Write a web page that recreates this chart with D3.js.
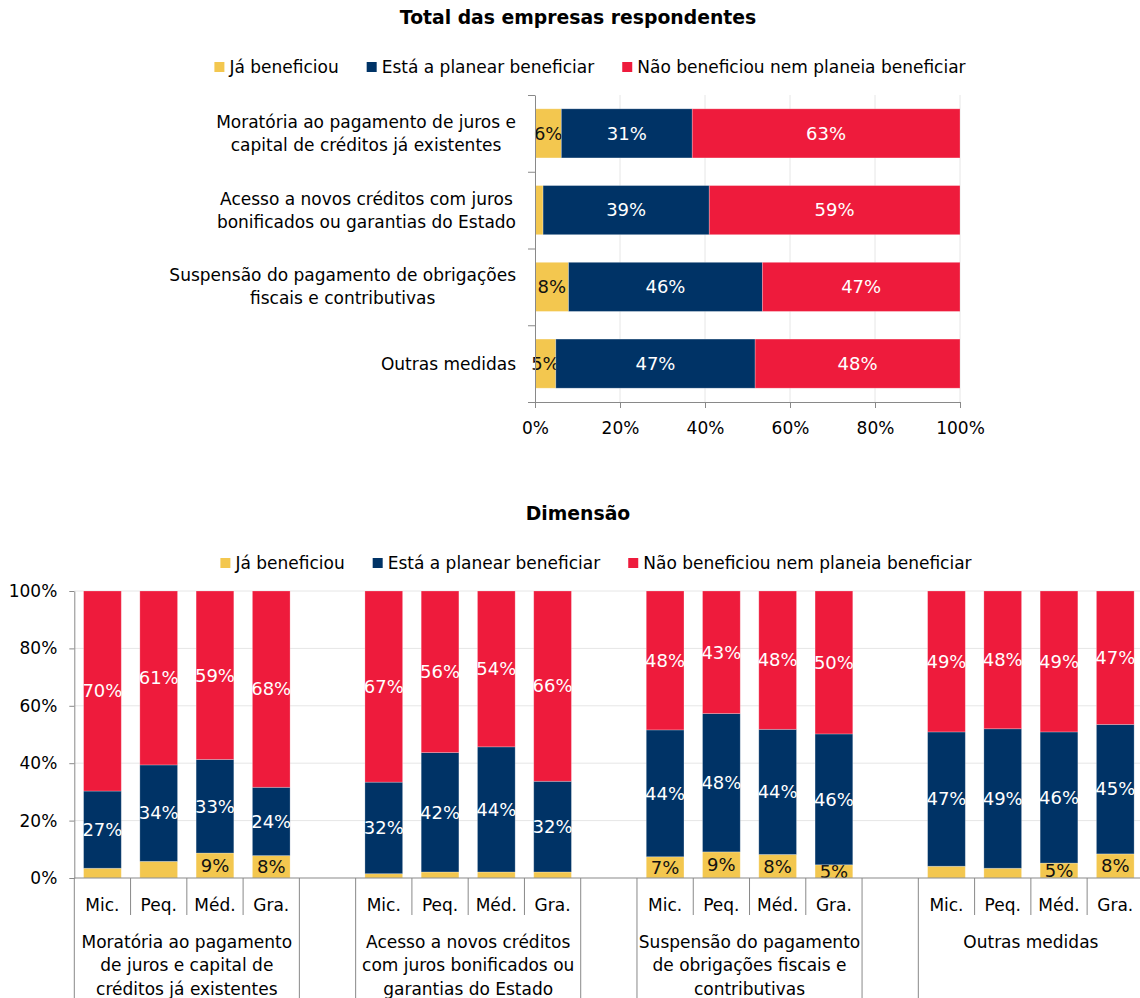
<!DOCTYPE html>
<html>
<head>
<meta charset="utf-8">
<script src="https://cdn.jsdelivr.net/npm/d3@7"></script>
<style>
  body { margin: 0; background: #fff; }
  svg { display: block; font-family: "DejaVu Sans", sans-serif; }
  .titulo { font-weight: bold; font-size: 18.8px; }
  .eixo text { font-size: 17px; fill: #000; font-family: "DejaVu Sans", sans-serif; }
  .eixo path, .eixo line { stroke: #898989; }
</style>
</head>
<body>
<div id="chart"></div>
<script>
// series e cores
const series = ["Já beneficiou", "Está a planear beneficiar", "Não beneficiou nem planeia beneficiar"];
const cores = ["#f3c74f", "#003366", "#ee1b3c"];
const coresTexto = ["#111", "#fff", "#fff"];

// grafico 1: total das empresas
const medidasTotal = [
  ["Moratória ao pagamento de juros e", "capital de créditos já existentes"],
  ["Acesso a novos créditos com juros", "bonificados ou garantias do Estado"],
  ["Suspensão do pagamento de obrigações", "fiscais e contributivas"],
  ["Outras medidas"]
];
const jaTotal = [6.2, 1.9, 7.9, 4.9];
const planearTotal = [30.8, 39.1, 45.6, 46.9];
const naoTotal = [63.0, 59.0, 46.5, 48.2];

// grafico 2: por dimensao
const medidasDim = [
  ["Moratória ao pagamento", "de juros e capital de", "créditos já existentes"],
  ["Acesso a novos créditos", "com juros bonificados ou", "garantias do Estado"],
  ["Suspensão do pagamento", "de obrigações fiscais e", "contributivas"],
  ["Outras medidas"]
];
const dimensoes = ["Mic.", "Peq.", "Méd.", "Gra."];
const jaDim = [3.4, 5.8, 8.7, 7.8, 1.5, 2.1, 2.1, 2.1, 7.4, 9.1, 8.2, 4.6, 4.1, 3.4, 5.2, 8.4];
const planearDim = [26.9, 33.6, 32.6, 23.8, 31.9, 41.6, 43.6, 31.6, 44.2, 48.2, 43.6, 45.6, 46.8, 48.6, 45.7, 45.1];
const naoDim = [69.7, 60.6, 58.7, 68.4, 66.6, 56.3, 54.3, 66.3, 48.4, 42.7, 48.2, 49.8, 49.1, 48.0, 49.1, 46.5];
const semRotuloDim = [1]; // barras sem rotulo amarelo

const ticksPct = [0, 20, 40, 60, 80, 100];
const chaves = ["ja", "planear", "nao"];

const svg = d3.select("#chart").append("svg").attr("width", 1140).attr("height", 998);

// legenda centrada
const legenda = (cx, cy) => {
  const g = svg.append("g");
  let x = 0;
  series.forEach((s, i) => {
    g.append("rect").attr("x", x).attr("y", cy - 5).attr("width", 10).attr("height", 10).attr("fill", cores[i]);
    const t = g.append("text").attr("x", x + 15).attr("y", cy).attr("dy", "0.35em")
      .attr("font-size", 17).text(s);
    x += 15 + t.node().getComputedTextLength() + 28;
  });
  g.attr("transform", `translate(${cx - (x - 28) / 2},0)`);
};

const rotulo = (v) => Math.round(v) + "%";

// ---------- grafico 1 ----------
svg.append("text").attr("class", "titulo").attr("x", 578).attr("y", 17).attr("dy", "0.35em")
  .attr("text-anchor", "middle").text("Total das empresas respondentes");
legenda(590, 67);

const areaT = { left: 535, right: 960, top: 95, bottom: 402 };
const xT = d3.scaleLinear().domain([0, 100]).range([areaT.left, areaT.right]);
const yT = d3.scaleBand().domain(d3.range(medidasTotal.length)).range([areaT.top, areaT.bottom])
  .paddingInner(0.36).paddingOuter(0.18);

svg.append("g").selectAll("line").data(ticksPct.slice(1)).join("line")
  .attr("x1", d => xT(d)).attr("x2", d => xT(d)).attr("y1", areaT.top).attr("y2", areaT.bottom)
  .attr("stroke", "#e6e6e6");

const tabelaT = medidasTotal.map((m, i) => ({ i, ja: jaTotal[i], planear: planearTotal[i], nao: naoTotal[i] }));
const pilhaT = d3.stack().keys(chaves)(tabelaT);

pilhaT.forEach((serie, s) => {
  const g = svg.append("g");
  g.selectAll("rect").data(serie).join("rect")
    .attr("x", d => xT(d[0])).attr("width", d => xT(d[1]) - xT(d[0]))
    .attr("y", d => yT(d.data.i)).attr("height", yT.bandwidth())
    .attr("fill", cores[s]).attr("stroke", "#fff").attr("stroke-opacity", 0.3).attr("stroke-width", 0.8);
  g.selectAll("text").data(serie.filter(d => Math.round(d[1] - d[0]) >= 5)).join("text")
    .attr("x", d => xT((d[0] + d[1]) / 2)).attr("y", d => yT(d.data.i) + yT.bandwidth() / 2)
    .attr("dy", "0.35em").attr("text-anchor", "middle").attr("font-size", 18)
    .attr("fill", coresTexto[s]).text(d => rotulo(d[1] - d[0]));
});

const yEixoT = d3.scaleLinear().domain([0, medidasTotal.length]).range([areaT.top, areaT.bottom]);
svg.append("g").attr("class", "eixo").attr("transform", `translate(${areaT.left},0)`)
  .call(d3.axisLeft(yEixoT).tickValues(d3.range(medidasTotal.length + 1)).tickFormat("").tickSize(7).tickSizeOuter(0));
svg.append("g").attr("class", "eixo").attr("transform", `translate(0,${areaT.bottom})`)
  .call(d3.axisBottom(xT).tickValues(ticksPct).tickFormat(d => d + "%").tickSize(6).tickPadding(14).tickSizeOuter(0));

// rotulos das medidas (bloco centrado, alinhado a direita)
medidasTotal.forEach((linhas, i) => {
  const g = svg.append("g");
  const cy = yT(i) + yT.bandwidth() / 2 - (linhas.length - 1) * 11.5;
  const textos = linhas.map((l, k) => g.append("text").attr("y", cy + k * 23).attr("dy", "0.35em")
    .attr("text-anchor", "middle").attr("font-size", 17).text(l));
  const w = d3.max(textos, t => t.node().getComputedTextLength());
  textos.forEach(t => t.attr("x", 516 - w / 2));
});

// ---------- grafico 2 ----------
svg.append("text").attr("class", "titulo").attr("x", 578).attr("y", 513).attr("dy", "0.35em")
  .attr("text-anchor", "middle").text("Dimensão");
legenda(596, 563);

const areaD = { left: 74.3, right: 1143.4, top: 591, bottom: 878 };
const slots = [];
medidasDim.forEach((m, g) => {
  dimensoes.forEach(d => slots.push(`${g}-${d}`));
  if (g < medidasDim.length - 1) slots.push(`vazio-${g}`);
});
const xD = d3.scaleBand().domain(slots).range([areaD.left, areaD.right]).paddingInner(0.33).paddingOuter(0.165);
const yD = d3.scaleLinear().domain([0, 100]).range([areaD.bottom, areaD.top]);

svg.append("g").selectAll("line").data(ticksPct.slice(1)).join("line")
  .attr("x1", areaD.left).attr("x2", areaD.right).attr("y1", d => yD(d)).attr("y2", d => yD(d))
  .attr("stroke", "#e6e6e6");

const tabelaD = jaDim.map((v, i) => ({
  i, chave: `${Math.floor(i / dimensoes.length)}-${dimensoes[i % dimensoes.length]}`,
  ja: v, planear: planearDim[i], nao: naoDim[i]
}));
const pilhaD = d3.stack().keys(chaves)(tabelaD);

pilhaD.forEach((serie, s) => {
  const g = svg.append("g");
  g.selectAll("rect").data(serie).join("rect")
    .attr("x", d => xD(d.data.chave)).attr("width", xD.bandwidth())
    .attr("y", d => yD(d[1])).attr("height", d => yD(d[0]) - yD(d[1]))
    .attr("fill", cores[s]).attr("stroke", "#fff").attr("stroke-opacity", 0.3).attr("stroke-width", 0.8);
  const comRotulo = serie.filter(d => Math.round(d[1] - d[0]) >= 5 && !(s === 0 && semRotuloDim.includes(d.data.i)));
  g.selectAll("text").data(comRotulo).join("text")
    .attr("x", d => xD(d.data.chave) + xD.bandwidth() / 2).attr("y", d => yD((d[0] + d[1]) / 2))
    .attr("dy", "0.35em").attr("text-anchor", "middle").attr("font-size", 18)
    .attr("fill", coresTexto[s]).text(d => rotulo(d[1] - d[0]));
});

svg.append("g").attr("class", "eixo").attr("transform", `translate(${areaD.left},0)`)
  .call(d3.axisLeft(yD).tickValues(ticksPct).tickFormat(d => d + "%").tickSize(5).tickPadding(12).tickSizeOuter(0));

// eixo de categorias em dois niveis
const eixoX = svg.append("g").attr("stroke", "#898989");
eixoX.append("line").attr("x1", areaD.left).attr("x2", areaD.right)
  .attr("y1", areaD.bottom).attr("y2", areaD.bottom);
d3.range(slots.length + 1).forEach(k => {
  const esq = slots[k - 1], dir = slots[k];
  const curta = esq && dir && !esq.startsWith("vazio") && !dir.startsWith("vazio") && esq[0] === dir[0];
  const x = areaD.left + k * xD.step();
  eixoX.append("line").attr("x1", x).attr("x2", x).attr("y1", areaD.bottom).attr("y2", curta ? 915 : 998);
});

svg.append("g").selectAll("text").data(tabelaD).join("text")
  .attr("x", d => xD(d.chave) + xD.bandwidth() / 2).attr("y", 905).attr("dy", "0.35em")
  .attr("text-anchor", "middle").attr("font-size", 17).text(d => dimensoes[d.i % dimensoes.length]);

medidasDim.forEach((linhas, g) => {
  const cx = xD(`${g}-${dimensoes[0]}`) + (xD(`${g}-${dimensoes[3]}`) + xD.bandwidth() - xD(`${g}-${dimensoes[0]}`)) / 2;
  linhas.forEach((l, k) => {
    svg.append("text").attr("x", cx).attr("y", 942 + k * 23.5).attr("dy", "0.35em")
      .attr("text-anchor", "middle").attr("font-size", 17).text(l);
  });
});
</script>
</body>
</html>
